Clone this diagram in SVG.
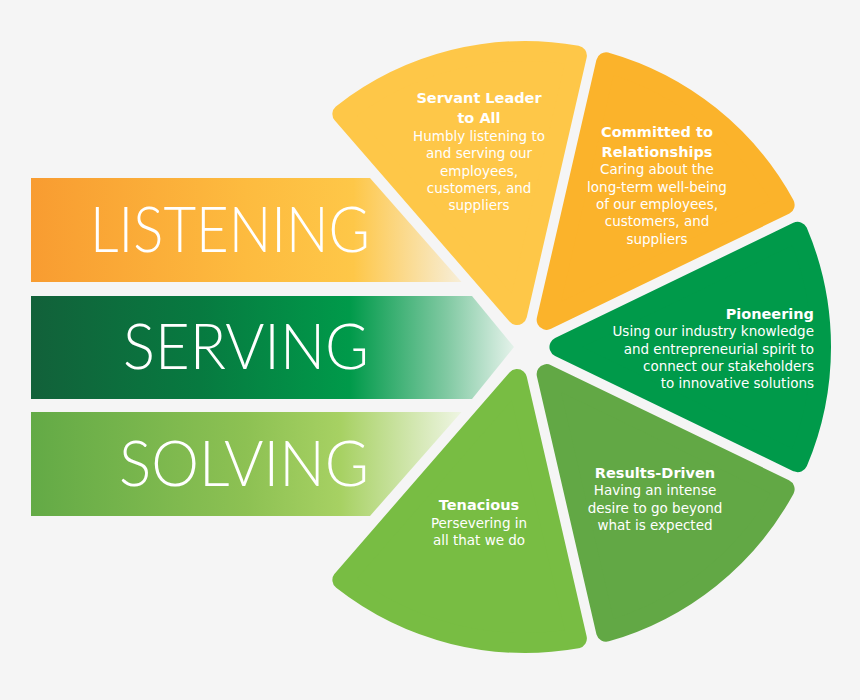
<svg xmlns="http://www.w3.org/2000/svg" width="860" height="700" viewBox="0 0 860 700">
  <defs>
    <linearGradient id="gListen" gradientUnits="userSpaceOnUse" x1="31" y1="0" x2="461" y2="0">
      <stop offset="0" stop-color="#f89c31"/>
      <stop offset="0.5" stop-color="#fdbb3f"/>
      <stop offset="0.75" stop-color="#fec748"/>
      <stop offset="1" stop-color="#f7eed8"/>
    </linearGradient>
    <linearGradient id="gServe" gradientUnits="userSpaceOnUse" x1="31" y1="0" x2="514" y2="0">
      <stop offset="0" stop-color="#12613a"/>
      <stop offset="0.35" stop-color="#077a40"/>
      <stop offset="0.66" stop-color="#009a4a"/>
      <stop offset="0.86" stop-color="#80c9a2"/>
      <stop offset="1" stop-color="#e4f2ea"/>
    </linearGradient>
    <linearGradient id="gSolve" gradientUnits="userSpaceOnUse" x1="31" y1="0" x2="461" y2="0">
      <stop offset="0" stop-color="#63aa46"/>
      <stop offset="0.5" stop-color="#8dc153"/>
      <stop offset="0.72" stop-color="#a7d163"/>
      <stop offset="1" stop-color="#eef5e2"/>
    </linearGradient>
  </defs>
  <style>
    .slice { stroke-width: 20; stroke-linejoin: round; }
    .band-text { font-family: "Lato", "DejaVu Sans", sans-serif; font-weight: 300; font-size: 63px; fill: #ffffff; }
    .title { font-family: "DejaVu Sans", "Liberation Sans", sans-serif; font-weight: bold; font-size: 14.5px; fill: #ffffff; text-anchor: middle; }
    .body { font-family: "DejaVu Sans", "Liberation Sans", sans-serif; font-size: 13.5px; fill: #ffffff; text-anchor: middle; }
    .end { text-anchor: end; }
  </style>
  <rect x="0" y="0" width="860" height="700" fill="#f5f5f5"/>

  <g id="band-listening">
    <polygon points="31,178 370,178 461.5,282 31,282" fill="url(#gListen)"/>
    <text class="band-text" x="90" y="252" textLength="280" lengthAdjust="spacingAndGlyphs">LISTENING</text>
  </g>
  <g id="band-serving">
    <polygon points="31,296 472,296 514,347 472,399 31,399" fill="url(#gServe)"/>
    <text class="band-text" x="123" y="369" textLength="246" lengthAdjust="spacingAndGlyphs">SERVING</text>
  </g>
  <g id="band-solving">
    <polygon points="31,412 461.5,412 370,516 31,516" fill="url(#gSolve)"/>
    <text class="band-text" x="119" y="486" textLength="250" lengthAdjust="spacingAndGlyphs">SOLVING</text>
  </g>

  <g id="slice-servant-leader">
    <path class="slice" d="M 517.01 314.94 L 342.38 114.05 A 296 296 0 0 1 576.88 55.58 Z" fill="#fec748" stroke="#fec748"/>
    <text class="title" x="479" y="103">Servant Leader</text>
    <text class="title" x="479" y="123">to All</text>
    <text class="body" x="479" y="141">Humbly listening to</text>
    <text class="body" x="479" y="158">and serving our</text>
    <text class="body" x="479" y="175.5">employees,</text>
    <text class="body" x="479" y="193">customers, and</text>
    <text class="body" x="479" y="210">suppliers</text>
  </g>

  <g id="slice-committed">
    <path class="slice" d="M 546.66 319.87 L 606.12 62.33 A 296 296 0 0 1 784.62 204.83 Z" fill="#fbb32b" stroke="#fbb32b"/>
    <text class="title" x="657" y="137">Committed to</text>
    <text class="title" x="657" y="157">Relationships</text>
    <text class="body" x="657" y="174">Caring about the</text>
    <text class="body" x="657" y="191.5">long-term well-being</text>
    <text class="body" x="657" y="208.5">of our employees,</text>
    <text class="body" x="657" y="226">customers, and</text>
    <text class="body" x="657" y="243.5">suppliers</text>
  </g>

  <g id="slice-pioneering">
    <path class="slice" d="M 559.46 347 L 797.68 231.84 A 296 296 0 0 1 797.68 462.16 Z" fill="#009a4a" stroke="#009a4a"/>
    <text class="title end" x="814" y="319">Pioneering</text>
    <text class="body end" x="814" y="336">Using our industry knowledge</text>
    <text class="body end" x="814" y="353.5">and entrepreneurial spirit to</text>
    <text class="body end" x="814" y="370.5">connect our stakeholders</text>
    <text class="body end" x="814" y="387.5">to innovative solutions</text>
  </g>

  <g id="slice-results-driven">
    <path class="slice" d="M 546.66 374.13 L 784.62 489.17 A 296 296 0 0 1 606.12 631.67 Z" fill="#62a845" stroke="#62a845"/>
    <text class="title" x="655" y="478">Results-Driven</text>
    <text class="body" x="655" y="495">Having an intense</text>
    <text class="body" x="655" y="512.5">desire to go beyond</text>
    <text class="body" x="655" y="529.5">what is expected</text>
  </g>

  <g id="slice-tenacious">
    <path class="slice" d="M 517.01 379.06 L 576.88 638.42 A 296 296 0 0 1 342.38 579.95 Z" fill="#78bd43" stroke="#78bd43"/>
    <text class="title" x="479" y="510">Tenacious</text>
    <text class="body" x="479" y="527.5">Persevering in</text>
    <text class="body" x="479" y="545">all that we do</text>
  </g>
</svg>
